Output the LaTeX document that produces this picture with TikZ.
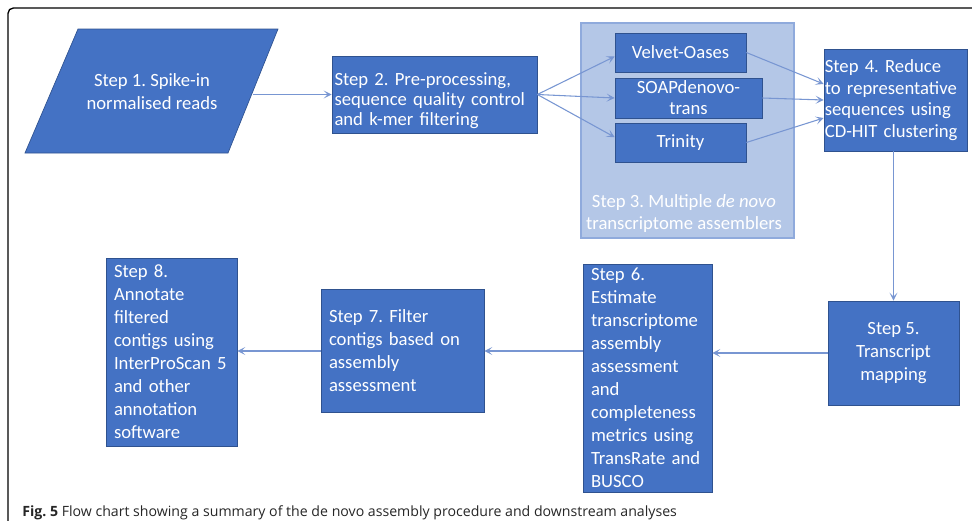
\documentclass[tikz,border=0pt]{standalone}
\usepackage{fontspec}
\setmainfont{Carlito}
\newfontfamily\capfont{Open Sans}
\usetikzlibrary{arrows.meta}
\definecolor{boxblue}{HTML}{4472C4}
\definecolor{boxedge}{HTML}{2F528F}
\definecolor{grpblue}{HTML}{B4C7E7}
\definecolor{grpedge}{HTML}{8FAADC}
\definecolor{arrblue}{RGB}{120,150,210}
\frenchspacing
\begin{document}
\begin{tikzpicture}[x=0.75pt, y=-0.75pt,
  stepbox/.style={draw=boxedge, line width=0.5pt, fill=boxblue, text=white, font=\fontsize{14}{17.25}\selectfont, inner xsep=6pt, inner ysep=0pt, align=left},
  asmbox/.style={stepbox, align=center},
  flow/.style={draw=arrblue, line width=0.8pt, -{Stealth[length=6pt, width=6pt, inset=3pt]}}]
\useasboundingbox (0,0) rectangle (972,521);
\draw[line width=1pt, rounded corners=4pt] (8,560) -- (8,8) -- (1000,8);

% top row
\draw[draw=boxedge, line width=0.5pt, fill=boxblue] (78,29) -- (278,29) -- (228,153) -- (25,153) -- cycle;
\coordinate (s1r) at (253,94.5);
\node[text=white, font=\fontsize{14}{17.25}\selectfont, align=center] (s1) at (152,92) {Step 1. Spike-in\\normalised reads};
\node[stepbox, minimum width=153.75pt, minimum height=57.75pt, text width=150pt, inner xsep=1.5pt, font=\fontsize{14}{14.8}\selectfont] (s2) at (434.5,94.5) {\rule{0pt}{19pt}Step 2. Pre-processing,\\sequence quality control\\and k-mer filtering};

% assemblers
\node[draw=grpedge, fill=grpblue, line width=0.8pt, minimum width=159.75pt, minimum height=161.25pt] (asm) at (687.5,130.5) {};
\node[text=white, font=\fontsize{14}{16.5}\selectfont, align=center] (asmlbl) at (684,214) {Step 3. Multiple \emph{de novo}\\transcriptome assemblers};
\node[asmbox, minimum width=98.25pt, minimum height=29.25pt] (velvet) at (680.5,52.5) {Velvet-Oases};
\node[asmbox, minimum width=110.25pt, minimum height=30pt, font=\fontsize{14}{15.75}\selectfont] (soap) at (688.5,98) {SOAPdenovo-\\trans};
\node[asmbox, minimum width=98.25pt, minimum height=29.25pt] (trinity) at (680.5,142.5) {Trinity};

\node[stepbox, minimum width=107.25pt, minimum height=76.5pt, text width=106pt, inner xsep=0.5pt, font=\fontsize{14}{16.3}\selectfont] (s4) at (895.5,100) {Step 4. Reduce\\to representative\\sequences using\\CD-HIT clustering};

% bottom row
\node[asmbox, minimum width=98.25pt, minimum height=78pt] (s5) at (893.5,353) {Step 5.\\Transcript\\mapping};
\node[stepbox, minimum width=96.75pt, minimum height=171pt, text width=84.75pt] (s6) at (647.5,378) {Step 6.\\Estimate\\transcriptome\\assembly\\assessment\\and\\completeness\\metrics using\\TransRate and\\BUSCO};
\node[stepbox, minimum width=122.25pt, minimum height=92.25pt, text width=110.25pt] (s7) at (402.5,351) {Step 7. Filter\\contigs based on\\assembly\\assessment};
\node[stepbox, minimum width=98.25pt, minimum height=141pt, text width=86.25pt] (s8) at (171.5,352) {Step 8.\\Annotate\\filtered\\contigs using\\InterProScan 5\\and other\\annotation\\software};

\draw[flow] (s1r) -- (s2.west);
\draw[flow] (s2.east) -- ([yshift=-3pt]velvet.west);
\draw[flow] (s2.east) -- (soap.west);
\draw[flow] (s2.east) -- ([yshift=4pt]trinity.west);
\draw[flow] (velvet.east) -- ([yshift=12pt]s4.west);
\draw[flow] (soap.east) -- (s4.west);
\draw[flow] (trinity.east) -- ([yshift=-13.5pt]s4.west);
\draw[flow] (s5.north |- s4.south) -- (s5.north);
\draw[flow] (s5.west) -- (s5.west -| s6.east);
\draw[flow] (s7.east -| s6.west) -- (s7.east);
\draw[flow] (s7.west) -- (s7.west -| s8.east);

\node[anchor=base west, inner sep=0pt, text=black!85, font=\capfont\fontsize{10.6}{12}\selectfont] (cap) at (22,516) {\textbf{Fig. 5} Flow chart showing a summary of the de novo assembly procedure and downstream analyses};
\end{tikzpicture}
\end{document}
